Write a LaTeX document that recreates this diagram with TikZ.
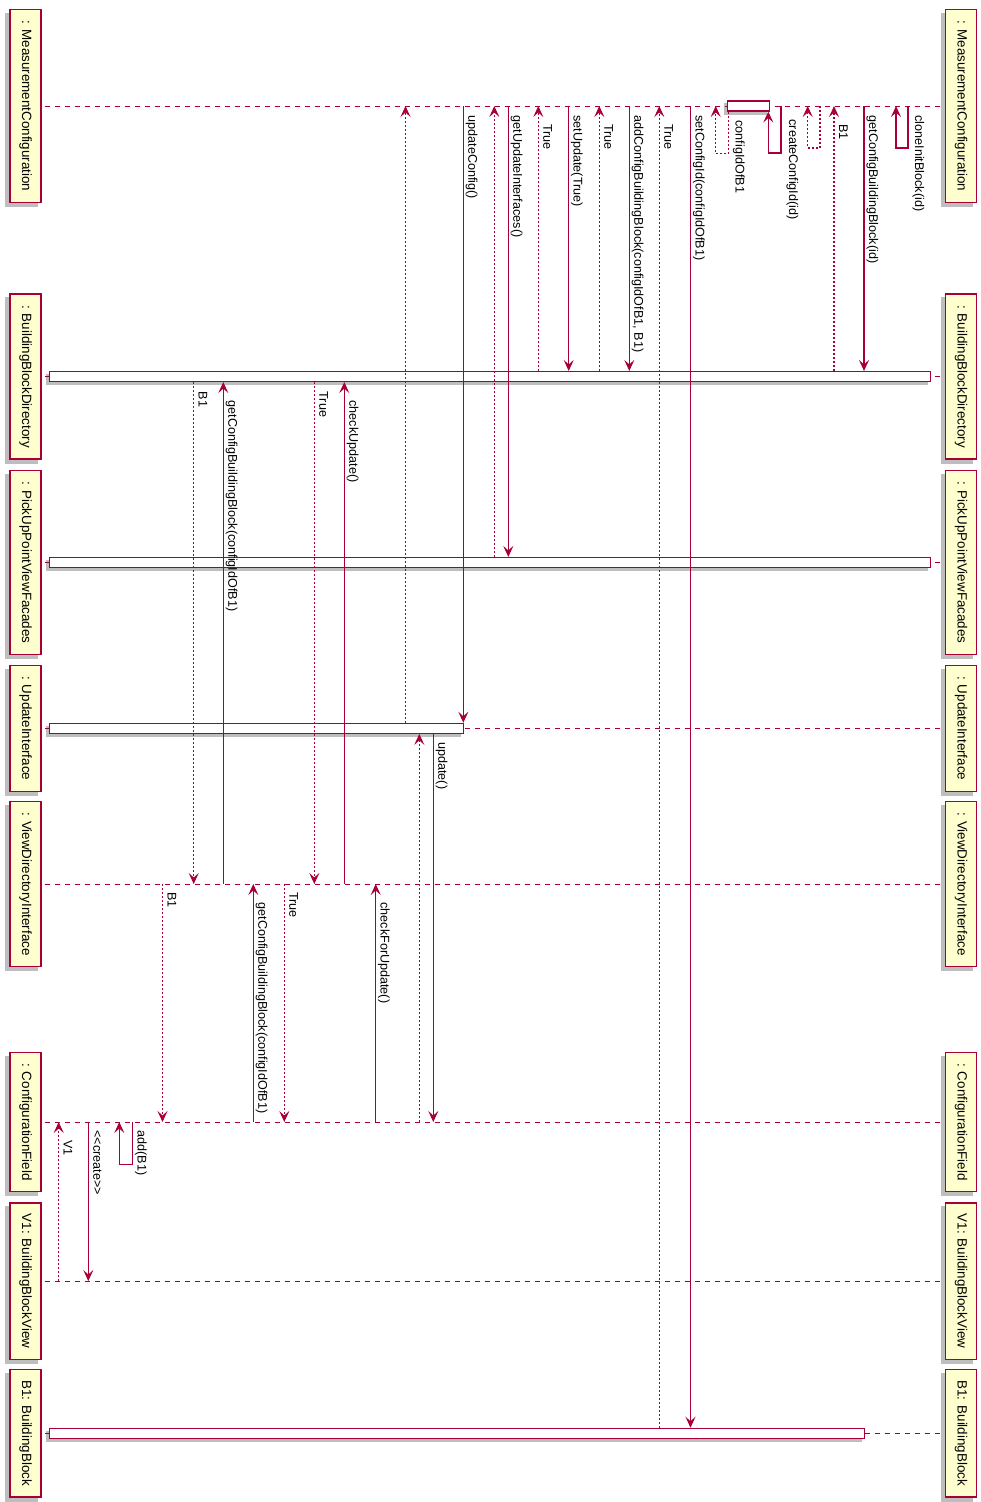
\documentclass[tikz,border=0pt]{standalone}
\usepackage{fontspec}
\setmainfont{Liberation Sans}
\usepackage{tikz}
\usetikzlibrary{arrows.meta,calc,backgrounds}

\definecolor{umlred}{RGB}{168,0,54}
\definecolor{umlfill}{RGB}{254,254,206}
\definecolor{umlshadow}{RGB}{190,190,190}

\begin{document}
\begin{tikzpicture}[
    x=1pt, y=-1pt,
    participant/.style={rectangle, draw=umlred, fill=umlfill, line width=1.3pt, rotate=-90,
        minimum height=31pt, inner xsep=11pt, inner ysep=0pt, font=\fontsize{13.4}{16}\selectfont},
    lifeline/.style={draw=umlred, line width=1pt, dash pattern=on 5pt off 5pt, shorten <=3pt, shorten >=3pt},
    activation/.style={rectangle, draw=umlred, fill=white, line width=1.1pt, inner sep=0pt, minimum height=10pt, anchor=west},
    call/.style={draw=umlred, line width=1.1pt, -{Stealth[length=11pt, width=10pt, inset=4.5pt]}},
    reply/.style={call, dash pattern=on 2pt off 2pt},
    msg/.style={rotate=-90, anchor=base west, inner sep=0pt, font=\fontsize{12.6}{15}\selectfont}
]
\useasboundingbox (0,0) rectangle (980,1502);

% Participants
\node[participant] (mc-l) at (25.5,106) {: MeasurementConfiguration};
\node[participant] (mc-r) at (961,106) {: MeasurementConfiguration};
\node[participant] (bbd-l) at (25.5,376.5) {: BuildingBlockDirectory};
\node[participant] (bbd-r) at (961,376.5) {: BuildingBlockDirectory};
\node[participant] (pu-l) at (25.5,562.5) {: PickUpPointViewFacades};
\node[participant] (pu-r) at (961,562.5) {: PickUpPointViewFacades};
\node[participant] (ui-l) at (25.5,728.3) {: UpdateInterface};
\node[participant] (ui-r) at (961,728.3) {: UpdateInterface};
\node[participant] (vdi-l) at (25.5,884) {: ViewDirectoryInterface};
\node[participant] (vdi-r) at (961,884) {: ViewDirectoryInterface};
\node[participant] (cf-l) at (25.5,1122) {: ConfigurationField};
\node[participant] (cf-r) at (961,1122) {: ConfigurationField};
\node[participant] (vone-l) at (25.5,1281) {V1: BuildingBlockView};
\node[participant] (vone-r) at (961,1281) {V1: BuildingBlockView};
\node[participant] (bone-l) at (25.5,1433.3) {B1: BuildingBlock};
\node[participant] (bone-r) at (961,1433.3) {B1: BuildingBlock};

% Lifelines
\foreach \p in {mc,bbd,pu,ui,vdi,cf,vone,bone}
    \draw[lifeline] (\p-l) -- (\p-r);

% Activations
\node[activation, minimum width=42pt] (mcAct) at (727.3,106) {};
\node[activation, minimum width=881pt] (bbdAct) at (49,376.5) {};
\node[activation, minimum width=881pt] (puAct) at (49,562.5) {};
\node[activation, minimum width=414pt] (uiAct) at (49,728.3) {};
\node[activation, minimum width=815pt] (boneAct) at (49,1433.3) {};

% Shadows
\begin{scope}[on background layer]
\foreach \p in {mc,bbd,pu,ui,vdi,cf,vone,bone} {
    \fill[umlshadow] ($(\p-l.north west)+(-4,4)$) rectangle ($(\p-l.south east)+(-4,4)$);
    \fill[umlshadow] ($(\p-r.north west)+(-4,4)$) rectangle ($(\p-r.south east)+(-4,4)$);
}
\foreach \a in {mcAct,bbdAct,puAct,uiAct,boneAct}
    \fill[umlshadow] ($(\a.north west)+(-3,3)$) rectangle ($(\a.south east)+(-3,3)$);
\end{scope}

% Messages (time runs from right to left)
\draw[call] (908,0 |- mc-l) -- ++(0,42) -- ++(-12,0) -- (896,0 |- mc-l)
    node[msg] at ($(908,0 |- mc-l)+(7,9)$) {cloneInitBlock(id)};
\draw[call] (864,0 |- mc-l) -- (864,0 |- bbdAct.north)
    node[msg] at ($(864,0 |- mc-l)+(5,9)$) {getConfigBuildingBlock(id)};
\draw[reply] (834,0 |- bbdAct.north) -- (834,0 |- mc-l)
    node[msg] at ($(834,0 |- mc-l)+(5,18)$) {B1};
\draw[reply] (820,0 |- mc-l) -- ++(0,42) -- ++(-12.3,0) -- (807.7,0 |- mc-l);
\draw[call] (781,0 |- mc-l) -- ++(0,47) -- ++(-12.7,0) -- (768.3,0 |- mcAct.south)
    node[msg] at ($(781,0 |- mc-l)+(8,13)$) {createConfigId(id)};
\draw[reply] (728.3,0 |- mcAct.south) -- ++(0,41.7) -- ++(-12.6,0) -- (715.7,0 |- mc-l)
    node[msg] at ($(728.3,0 |- mc-l)+(7.2,14)$) {configIdOfB1};
\draw[call] (690.5,0 |- mc-l) -- (690.5,0 |- boneAct.north)
    node[msg] at ($(690.5,0 |- mc-l)+(5,9)$) {setConfigId(configIdOfB1)};
\draw[reply] (659.3,0 |- boneAct.north) -- (659.3,0 |- mc-l)
    node[msg] at ($(659.3,0 |- mc-l)+(5,18)$) {True};
\draw[call] (629.3,0 |- mc-l) -- (629.3,0 |- bbdAct.north)
    node[msg] at ($(629.3,0 |- mc-l)+(5,9)$) {addConfigBuildingBlock(configIdOfB1, B1)};
\draw[reply] (599.3,0 |- bbdAct.north) -- (599.3,0 |- mc-l)
    node[msg] at ($(599.3,0 |- mc-l)+(5,18)$) {True};
\draw[call] (568.7,0 |- mc-l) -- (568.7,0 |- bbdAct.north)
    node[msg] at ($(568.7,0 |- mc-l)+(5,9)$) {setUpdate(True)};
\draw[reply] (538.3,0 |- bbdAct.north) -- (538.3,0 |- mc-l)
    node[msg] at ($(538.3,0 |- mc-l)+(5,18)$) {True};
\draw[call] (508.3,0 |- mc-l) -- (508.3,0 |- puAct.north)
    node[msg] at ($(508.3,0 |- mc-l)+(5,9)$) {getUpdateInterfaces()};
\draw[reply] (494.3,0 |- puAct.north) -- (494.3,0 |- mc-l);
\draw[call] (463.3,0 |- mc-l) -- (463.3,0 |- uiAct.north)
    node[msg] at ($(463.3,0 |- mc-l)+(5,9)$) {updateConfig()};
\draw[call] (433.3,0 |- uiAct.south) -- (433.3,0 |- cf-l)
    node[msg] at ($(433.3,0 |- uiAct.south)+(5,8)$) {update()};
\draw[reply] (419.3,0 |- cf-l) -- (419.3,0 |- uiAct.south);
\draw[reply] (405.5,0 |- uiAct.north) -- (405.5,0 |- mc-l);
\draw[call] (375.7,0 |- cf-l) -- (375.7,0 |- vdi-l)
    node[msg] at ($(375.7,0 |- vdi-l)+(5,18)$) {checkForUpdate()};
\draw[call] (344.3,0 |- vdi-l) -- (344.3,0 |- bbdAct.south)
    node[msg] at ($(344.3,0 |- bbdAct.south)+(5,18)$) {checkUpdate()};
\draw[reply] (314.3,0 |- bbdAct.south) -- (314.3,0 |- vdi-l)
    node[msg] at ($(314.3,0 |- bbdAct.south)+(5,9)$) {True};
\draw[reply] (284.3,0 |- vdi-l) -- (284.3,0 |- cf-l)
    node[msg] at ($(284.3,0 |- vdi-l)+(5,8)$) {True};
\draw[call] (253.3,0 |- cf-l) -- (253.3,0 |- vdi-l)
    node[msg] at ($(253.3,0 |- vdi-l)+(5,18)$) {getConfigBuildingBlock(configIdOfB1)};
\draw[call] (223.3,0 |- vdi-l) -- (223.3,0 |- bbdAct.south)
    node[msg] at ($(223.3,0 |- bbdAct.south)+(5,18)$) {getConfigBuildingBlock(configIdOfB1)};
\draw[reply] (193.7,0 |- bbdAct.south) -- (193.7,0 |- vdi-l)
    node[msg] at ($(193.7,0 |- bbdAct.south)+(5,9)$) {B1};
\draw[reply] (162.5,0 |- vdi-l) -- (162.5,0 |- cf-l)
    node[msg] at ($(162.5,0 |- vdi-l)+(5,8)$) {B1};
\draw[call] (132.3,0 |- cf-l) -- ++(0,42.3) -- ++(-13,0) -- (119.3,0 |- cf-l)
    node[msg] at ($(132.3,0 |- cf-l)+(5.3,8)$) {add(B1)};
\draw[call] (88.3,0 |- cf-l) -- (88.3,0 |- vone-l)
    node[msg] at ($(88.3,0 |- cf-l)+(5,8)$) {<{}<create>{}>};
\draw[reply] (58.7,0 |- vone-l) -- (58.7,0 |- cf-l)
    node[msg] at ($(58.7,0 |- cf-l)+(5,18)$) {V1};

\end{tikzpicture}
\end{document}
